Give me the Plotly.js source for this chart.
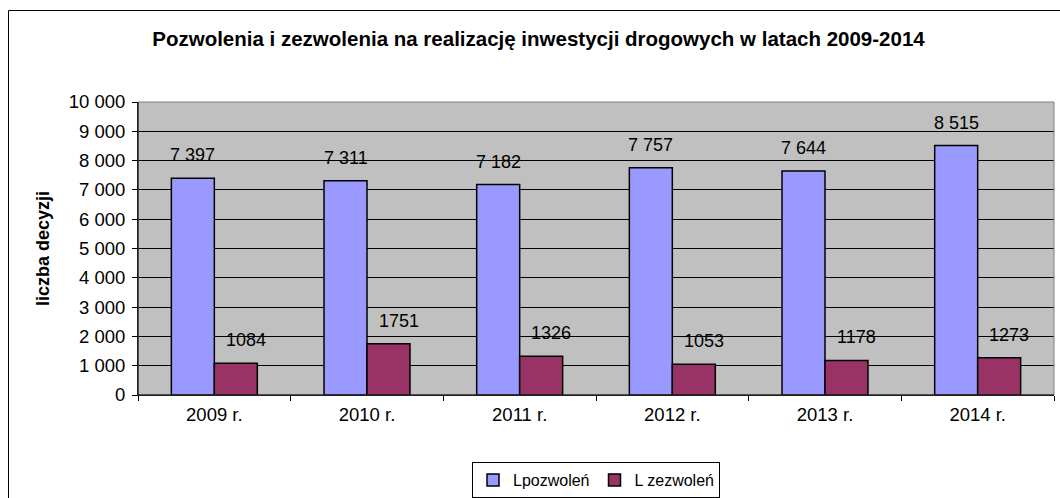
<!DOCTYPE html>
<html>
<head>
<meta charset="utf-8">
<script src="https://cdn.plot.ly/plotly-3.0.1.min.js"></script>
<style>
html,body{margin:0;padding:0;background:#fff;}
#chart{width:1060px;height:498px;}
</style>
</head>
<body>
<div id="chart"></div>
<script>
var categories = ["2009 r.", "2010 r.", "2011 r.", "2012 r.", "2013 r.", "2014 r."];
var pozwolenia = [7397, 7311, 7182, 7757, 7644, 8515];
var zezwolenia = [1084, 1751, 1326, 1053, 1178, 1273];
var seriesNames = ["Lpozwoleń", "L zezwoleń"];
var yTicks = [0, 1000, 2000, 3000, 4000, 5000, 6000, 7000, 8000, 9000, 10000];
var titleText = "Pozwolenia i zezwolenia na realizację inwestycji drogowych w latach 2009-2014";
var yTitleText = "liczba decyzji";

function spaced(v){ return String(v).replace(/\B(?=(\d{3})+(?!\d))/g, " "); }

var FONT = '"Liberation Sans", Arial, sans-serif';

var traces = [
  {type:'bar', name:seriesNames[0], x:categories, y:pozwolenia,
   marker:{color:'#9999FF', line:{color:'#000000', width:1.5}}, hoverinfo:'none'},
  {type:'bar', name:seriesNames[1], x:categories, y:zezwolenia,
   marker:{color:'#993366', line:{color:'#000000', width:1.5}}, hoverinfo:'none'}
];

var annotations = [];
categories.forEach(function(c, i){
  annotations.push({x:c, y:pozwolenia[i], xref:'x', yref:'y', text:spaced(pozwolenia[i]),
    showarrow:false, yanchor:'bottom', yshift:11, xshift:-21.5,
    font:{family:FONT, size:18, color:'#000'}});
  annotations.push({x:c, y:zezwolenia[i], xref:'x', yref:'y', text:String(zezwolenia[i]),
    showarrow:false, yanchor:'bottom', yshift:11, xshift:31.5,
    font:{family:FONT, size:18, color:'#000'}});
});

var layout = {
  width:1060, height:498,
  margin:{l:138, r:6, t:102, b:103, pad:0, autoexpand:false},
  paper_bgcolor:'#FFFFFF',
  plot_bgcolor:'#C0C0C0',
  separators:', ',
  font:{family:FONT, size:18, color:'#000'},
  showlegend:true,
  barmode:'group',
  bargap:0.437,
  bargroupgap:0,
  title:{text:titleText, font:{family:FONT, size:20.5, color:'#000', weight:'bold'},
         xref:'container', x:0.508, xanchor:'center', yref:'container', y:1-39/498, yanchor:'middle'},
  xaxis:{type:'category', showline:true, linecolor:'#000', linewidth:1, ticks:'outside',
         tickson:'boundaries', ticklen:5, tickcolor:'#000', showgrid:false, ticklabelstandoff:3,
         automargin:false,
         tickfont:{family:FONT, size:18.5, color:'#000'}, fixedrange:true},
  yaxis:{range:[0,10000], tickvals:yTicks, tickformat:',d', showline:true, linecolor:'#000',
         linewidth:1, ticks:'outside', ticklen:5, tickcolor:'#000', showgrid:true,
         gridcolor:'#000', gridwidth:1, zeroline:false, ticklabelstandoff:3, automargin:false,
         tickfont:{family:FONT, size:18.5, color:'#000'},
         title:{text:yTitleText, font:{family:FONT, size:18, color:'#000', weight:'bold'}, standoff:14},
         fixedrange:true},
  legend:{orientation:'h', x:0.5, xanchor:'center', y:(395-462)/293, yanchor:'top',
          bgcolor:'#FFFFFF', bordercolor:'#000', borderwidth:1,
          font:{family:FONT, size:16, color:'#000'}, itemwidth:30},
  annotations:annotations,
  shapes:[
    {type:'rect', xref:'paper', yref:'paper', x0:0, x1:1, y0:0, y1:1,
     line:{color:'#808080', width:1}, fillcolor:'rgba(0,0,0,0)', layer:'above'},
    {type:'line', xref:'paper', yref:'paper', x0:0, x1:0, y0:0, y1:1,
     line:{color:'#000', width:1}, layer:'above'},
    {type:'line', xref:'paper', yref:'paper', x0:0, x1:1, y0:0, y1:0,
     line:{color:'#000', width:1}, layer:'above'},
    {type:'rect', xref:'paper', yref:'paper', x0:(8.5-138)/916, x1:(1070-138)/916,
     y0:(395-510)/293, y1:(395-10.5)/293,
     line:{color:'#000', width:1}, fillcolor:'rgba(0,0,0,0)', layer:'above'}
  ]
};

Plotly.newPlot('chart', traces, layout, {staticPlot:true, displayModeBar:false});
</script>
</body>
</html>
